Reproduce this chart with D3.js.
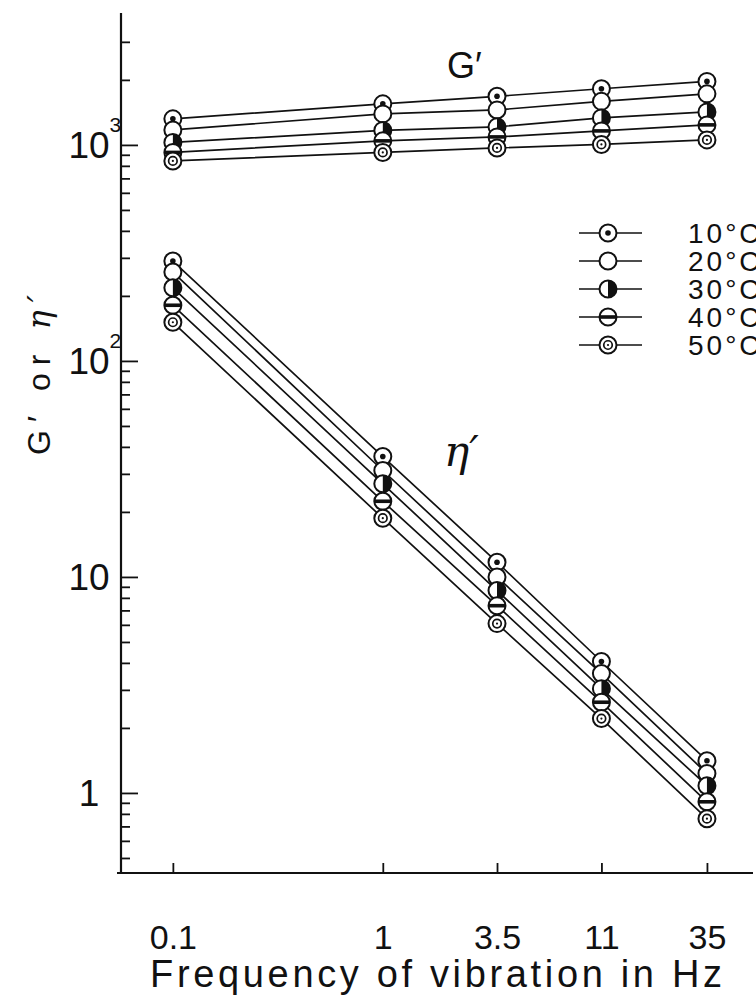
<!DOCTYPE html>
<html>
<head>
<meta charset="utf-8">
<script src="https://cdn.jsdelivr.net/npm/d3@7"></script>
<style>
    body { margin: 0; background: #fff; }
    svg { display: block; }
    text { font-family: "Liberation Sans", Arial, sans-serif; fill: #111; }
</style>
</head>
<body>
<svg id="chart"></svg>
<script>
// frequencies of vibration (Hz)
const frequencies = [0.1, 1, 3.5, 11, 35];
const temperatures = ["10°C", "20°C", "30°C", "40°C", "50°C"];

// G' at each temperature
const gPrime10 = [1320, 1549, 1679, 1820, 1968];
const gPrime20 = [1173, 1392, 1452, 1591, 1723];
const gPrime30 = [1027, 1167, 1212, 1334, 1422];
const gPrime40 = [923, 1044, 1089, 1161, 1238];
const gPrime50 = [843, 923, 968, 1005, 1055];

// eta' at each temperature
const etaPrime10 = [290, 36.1, 11.7, 4.06, 1.41];
const etaPrime20 = [258, 31.1, 10.0, 3.57, 1.23];
const etaPrime30 = [218, 27.0, 8.65, 3.04, 1.08];
const etaPrime40 = [181, 22.4, 7.36, 2.63, 0.91];
const etaPrime50 = [151, 18.7, 6.08, 2.21, 0.76];

const xTickLabels = ["0.1", "1", "3.5", "11", "35"];
const yMajorTicks = [1, 10, 100, 1000];
const yMajorBase = ["1", "10", "10", "10"];
const yMajorExp = ["", "", "2", "3"];

const ink = "#111";
const width = 756, height = 996;

const svg = d3.select("#chart")
    .attr("width", width)
    .attr("height", height);

const x = d3.scaleLog()
    .domain([0.056, 58])
    .range([120, 753]);

const y = d3.scaleLog()
    .domain([0.426, 4080])
    .range([873, 13]);

const axisX = 121;
const axisY = 873;

// y axis: minor ticks, then major ticks
const minorTicks = y.ticks().filter(v => v <= 3000 && yMajorTicks.indexOf(v) < 0);

const yMinor = svg.append("g")
    .attr("transform", `translate(${axisX},0)`)
    .call(d3.axisRight(y).tickValues(minorTicks).tickSize(9).tickFormat(""));
const yMajor = svg.append("g")
    .attr("transform", `translate(${axisX},0)`)
    .call(d3.axisRight(y).tickValues(yMajorTicks).tickSize(17).tickFormat(""));

// x axis, ticks point up into the plot
const xAxis = svg.append("g")
    .attr("transform", `translate(0,${axisY})`)
    .call(d3.axisBottom(x).tickValues(frequencies).tickSize(-10).tickPadding(52)
        .tickFormat((d, i) => xTickLabels[i]));

[yMinor, yMajor, xAxis].forEach(g => {
    g.select(".domain").remove();
    g.selectAll(".tick line").attr("stroke", ink).attr("stroke-width", 1.8);
});
xAxis.selectAll(".tick text")
    .attr("fill", ink)
    .style("font-size", "34px")
    .style("font-family", "'Liberation Sans', Arial, sans-serif");

svg.append("line")
    .attr("x1", axisX).attr("x2", axisX)
    .attr("y1", y.range()[1]).attr("y2", axisY)
    .attr("stroke", ink).attr("stroke-width", 2.2);
svg.append("line")
    .attr("x1", x.range()[0] - 3).attr("x2", x.range()[1])
    .attr("y1", axisY).attr("y2", axisY)
    .attr("stroke", ink).attr("stroke-width", 2.2);

// y tick labels, exponent as a raised tspan; base centred at x = 89
yMajorTicks.forEach((v, i) => {
    const t = svg.append("text")
        .attr("y", y(v) + 13)
        .style("font-size", "37px");
    const base = t.append("tspan").text(yMajorBase[i]);
    const w = base.node().getComputedTextLength();
    t.attr("x", 89 - w / 2);
    if (yMajorExp[i]) {
        t.append("tspan")
            .attr("dy", -26)
            .style("font-size", "21px")
            .text(yMajorExp[i]);
    }
});

// marker styles, one per temperature
function drawMarker(g, type, r) {
    g.append("circle").attr("r", r)
        .attr("fill", "#fff").attr("stroke", ink).attr("stroke-width", 2);
    if (type === 0) {
        g.append("circle").attr("r", 2.8).attr("fill", ink);
    } else if (type === 2) {
        g.append("path").attr("d", `M0,${-r}A${r},${r} 0 0 1 0,${r}Z`).attr("fill", ink);
    } else if (type === 3) {
        g.append("rect").attr("x", -r).attr("y", -1.8)
            .attr("width", 2 * r).attr("height", 3.6).attr("fill", ink);
    } else if (type === 4) {
        g.append("circle").attr("r", r * 0.5)
            .attr("fill", "none").attr("stroke", ink).attr("stroke-width", 1.7);
        g.append("circle").attr("r", 1.1).attr("fill", ink);
    }
}

const gSeries = [gPrime10, gPrime20, gPrime30, gPrime40, gPrime50];
const etaSeries = [etaPrime10, etaPrime20, etaPrime30, etaPrime40, etaPrime50];

const line = d3.line()
    .x(d => x(d.f))
    .y(d => y(d.v));

const toPoints = vals => vals.map((v, i) => ({ f: frequencies[i], v: v }));
const allSeries = gSeries.concat(etaSeries).map((vals, k) => ({ type: k % 5, pts: toPoints(vals) }));

// lines first, markers on top
svg.append("g").selectAll("path")
    .data(allSeries)
    .enter()
    .append("path")
    .attr("d", d => line(d.pts))
    .attr("fill", "none")
    .attr("stroke", ink)
    .attr("stroke-width", 1.7);

allSeries.forEach(s => {
    s.pts.forEach(p => {
        const m = svg.append("g").attr("transform", `translate(${x(p.f)},${y(p.v)})`);
        drawMarker(m, s.type, 8.5);
    });
});

// legend
const legend = svg.append("g");
temperatures.forEach((t, i) => {
    const ly = 233 + i * 28;
    legend.append("line")
        .attr("x1", 579).attr("x2", 642)
        .attr("y1", ly).attr("y2", ly)
        .attr("stroke", ink).attr("stroke-width", 1.7);
    drawMarker(legend.append("g").attr("transform", `translate(608,${ly})`), i, 8.5);
    legend.append("text")
        .attr("x", 688)
        .attr("y", ly + 10)
        .style("font-size", "28px")
        .style("letter-spacing", "3px")
        .text(t);
});

// curve labels
svg.append("text")
    .attr("x", 447).attr("y", 78)
    .style("font-size", "36px")
    .text("G′");
svg.append("text")
    .attr("x", 444).attr("y", 466)
    .style("font-size", "42px")
    .style("font-family", "'DejaVu Serif', serif")
    .style("font-style", "italic")
    .text("η′");

// axis titles
const yTitle = svg.append("text")
    .attr("transform", "translate(50,455) rotate(-90)")
    .attr("textLength", 160)
    .attr("lengthAdjust", "spacing")
    .style("font-size", "32px");
yTitle.append("tspan").text("G′ or ");
yTitle.append("tspan")
    .style("font-family", "'DejaVu Serif', serif")
    .style("font-style", "italic")
    .text("η′");

svg.append("text")
    .attr("x", 436).attr("y", 987)
    .attr("text-anchor", "middle")
    .attr("textLength", 572)
    .attr("lengthAdjust", "spacing")
    .style("font-size", "38px")
    .text("Frequency of vibration in Hz");
</script>
</body>
</html>
